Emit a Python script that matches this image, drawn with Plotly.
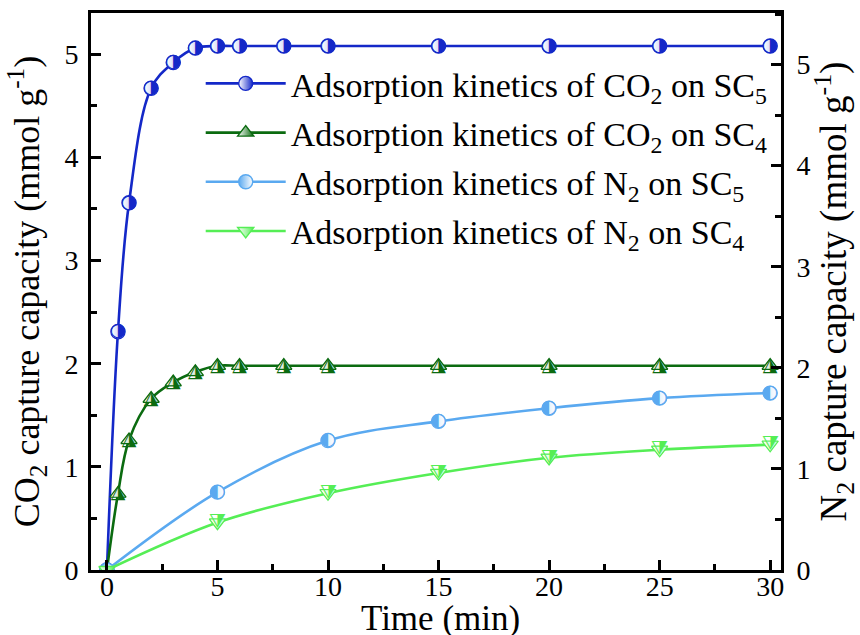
import plotly.graph_objects as go

# ---------------- data ----------------
time_co2 = [0, 0.5, 1, 2, 3, 4, 5, 6, 8, 10, 15, 20, 25, 30]
co2_sc5 = [0, 2.31, 3.56, 4.67, 4.92, 5.06, 5.08, 5.08, 5.08, 5.08, 5.08, 5.08, 5.08, 5.08]
co2_sc4 = [0, 0.74, 1.26, 1.66, 1.82, 1.92, 1.98, 1.98, 1.98, 1.98, 1.98, 1.98, 1.98, 1.98]

time_n2 = [0, 5, 10, 15, 20, 25, 30]
n2_sc5 = [0, 0.77, 1.28, 1.47, 1.60, 1.70, 1.75]
n2_sc4 = [0, 0.47, 0.76, 0.96, 1.11, 1.19, 1.24]

names = [
    "Adsorption kinetics of CO<sub>2</sub> on SC<sub>5</sub>",
    "Adsorption kinetics of CO<sub>2</sub> on SC<sub>4</sub>",
    "Adsorption kinetics of N<sub>2</sub> on SC<sub>5</sub>",
    "Adsorption kinetics of N<sub>2</sub> on SC<sub>4</sub>",
]
x_ticks = [0, 5, 10, 15, 20, 25, 30]
y_ticks = [0, 1, 2, 3, 4, 5]

FONT = "Liberation Serif, 'Times New Roman', Times, Tinos, 'DejaVu Serif', serif"
GLYPH_FONT = "DejaVu Sans"
colors = ["#1428c8", "#0b6b10", "#5aa9f0", "#55ee55"]

fig = go.Figure()


def add_series(x, y, name, color, symbol, glyph, left_color, right_color, yaxis, gsize, msize, group):
    # main trace: smooth line + markers (shown in legend)
    fig.add_trace(go.Scatter(
        x=x, y=y, name=name, yaxis=yaxis, mode="lines+markers", legendgroup=group,
        line=dict(color=color, width=2.6, shape="spline", smoothing=1.0),
        marker=dict(symbol=symbol, size=14, color=left_color,
                    line=dict(color=color, width=1.4),
                    gradient=dict(type="horizontal", color=right_color)),
    ))
    # overlay: white body + half-filled glyph (origin point keeps the plain marker)
    texts = [glyph if xv != 0 else "" for xv in x]
    sizes = [msize if xv != 0 else 0 for xv in x]
    fig.add_trace(go.Scatter(
        x=x, y=y, yaxis=yaxis, mode="markers+text", showlegend=False, legendgroup=group,
        marker=dict(symbol=symbol, size=sizes, color="white", line=dict(width=0)),
        text=texts, textposition="middle center",
        textfont=dict(family=GLYPH_FONT, size=gsize, color=color),
        hoverinfo="skip",
    ))


add_series(time_co2, co2_sc5, names[0], colors[0], "circle", "\u25d1", "white", colors[0], "y", 19, 13, "g1")
add_series(time_co2, co2_sc4, names[1], colors[1], "triangle-up", "\u25ee", "white", colors[1], "y", 19, 12, "g2")
add_series(time_n2, n2_sc5, names[2], colors[2], "circle", "\u25d0", colors[2], "white", "y2", 19, 13, "g3")
add_series(time_n2, n2_sc4, names[3], colors[3], "triangle-down", "\u29e9", "white", colors[3], "y2", 19, 12, "g4")

axis_common = dict(
    showline=True, linewidth=3, linecolor="black",
    ticks="inside", ticklen=10, tickwidth=3, tickcolor="black",
    showgrid=False, zeroline=False,
    tickfont=dict(family=FONT, size=28, color="black"),
    automargin=False,
)

fig.update_layout(
    width=860, height=635,
    margin=dict(l=91, r=79, t=13, b=65),
    paper_bgcolor="white", plot_bgcolor="white",
    font=dict(family=FONT, color="black"),
    xaxis=dict(
        range=[-0.72, 30.49], tickvals=x_ticks, mirror=True,
        minor=dict(ticks="inside", ticklen=6, tickwidth=3, tick0=0, dtick=2.5, tickcolor="black"),
        ticklabelstandoff=-11,
        **axis_common,
    ),
    yaxis=dict(
        range=[0, 5.40], tickvals=y_ticks, side="left",
        minor=dict(ticks="inside", ticklen=6, tickwidth=3, tick0=0, dtick=0.5, tickcolor="black"),
        title=dict(text="CO<sub>2</sub> capture capacity (mmol g<sup>-1</sup>)",
                   font=dict(family=FONT, size=36), standoff=14),
        ticklabelstandoff=4,
        **axis_common,
    ),
    yaxis2=dict(
        range=[0, 5.51], tickvals=y_ticks, side="right", overlaying="y",
        minor=dict(ticks="inside", ticklen=6, tickwidth=3, tick0=0, dtick=0.5, tickcolor="black"),
        title=dict(text="N<sub>2</sub> capture capacity (mmol g<sup>-1</sup>)",
                   font=dict(family=FONT, size=37), standoff=10),
        ticklabelstandoff=7,
        **axis_common,
    ),
    legend=dict(
        x=0.159, y=0.925, xanchor="left", yanchor="top",
        bgcolor="rgba(0,0,0,0)", borderwidth=0,
        font=dict(family=FONT, size=34, color="black"),
        itemwidth=80, traceorder="grouped", tracegroupgap=2,
    ),
    annotations=[dict(
        text="Time (min)", xref="paper", yref="paper", x=0.507, y=-0.087,
        xanchor="center", yanchor="middle", showarrow=False,
        font=dict(family=FONT, size=35, color="black"),
    )],
    showlegend=True,
)

fig.write_html("out.html")
